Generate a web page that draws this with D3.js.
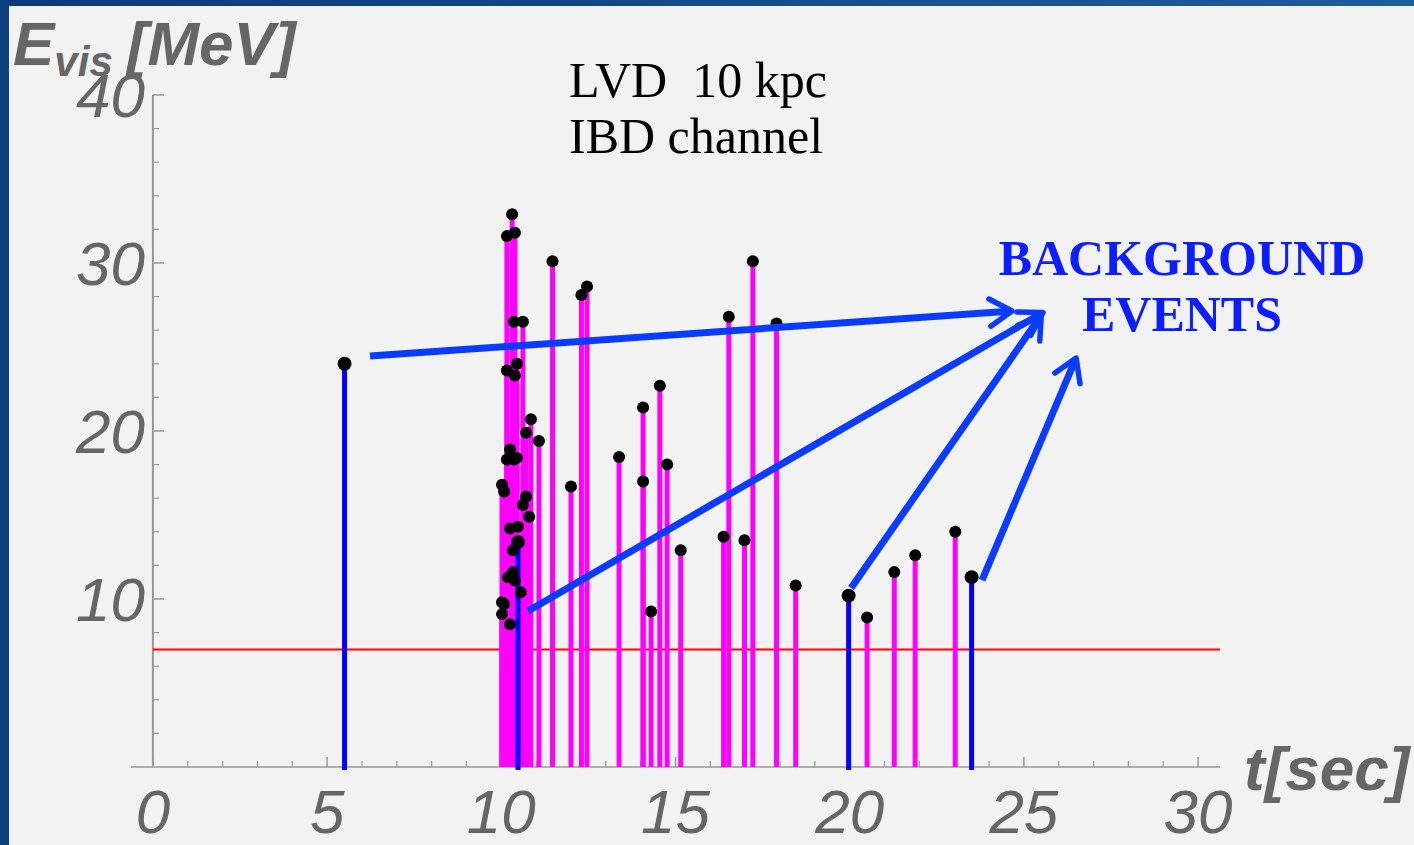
<!DOCTYPE html>
<html lang="en">
<head>
<meta charset="UTF-8">
<title>LVD IBD events</title>
<script src="https://cdn.jsdelivr.net/npm/d3@7/dist/d3.min.js"></script>
<style>
  html, body { margin: 0; padding: 0; background: #f2f2f2; }
  svg { display: block; }
</style>
</head>
<body>
<script>
// signal events (t [s], E_vis [MeV])
const sigT = [10.31, 10.16, 10.39, 10.36, 10.62, 10.16, 10.39, 10.45, 10.85, 10.71,
  11.08, 10.25, 10.16, 10.45, 10.36, 10.02, 10.08, 10.71, 10.62, 10.80,
  10.25, 10.48, 10.33, 10.19, 10.33, 10.39, 10.56, 10.02, 10.08, 10.02,
  10.25, 11.47, 12.0, 12.3, 12.46, 13.38, 14.07, 14.07, 14.3, 14.55,
  14.76, 15.15, 16.38, 16.53, 16.98, 17.22, 17.9, 18.45, 20.5, 21.28,
  21.88, 23.03];
const sigE = [32.9, 31.6, 31.8, 26.5, 26.5, 23.6, 23.3, 24.0, 20.7, 19.9,
  19.4, 18.9, 18.3, 18.4, 18.3, 16.8, 16.4, 16.1, 15.6, 14.9,
  14.2, 14.3, 12.9, 11.3, 11.6, 11.1, 10.4, 9.8, 9.7, 9.1,
  8.5, 30.1, 16.7, 28.1, 28.6, 18.45, 21.4, 17.0, 9.25, 22.7,
  18.0, 12.9, 13.7, 26.8, 13.5, 30.1, 26.4, 10.8, 8.9, 11.6,
  12.6, 14.0];

// background events
const bkgT = [5.5, 10.48, 19.97, 23.5];
const bkgE = [24.0, 13.4, 10.2, 11.3];

const threshold = 7;
const xTicks = [0, 5, 10, 15, 20, 25, 30];
const yTicks = [10, 20, 30, 40];

// annotation arrows: [t0, E0, t1, E1]
const arrows = [
  [6.23, 24.46, 24.66, 27.14],
  [10.77, 9.29, 25.55, 27.05],
  [20.04, 10.65, 25.5, 26.9],
  [23.8, 11.13, 26.5, 24.35]
];

const W = 1414, H = 845;
const svg = d3.select('body').append('svg').attr('width', W).attr('height', H);

// blue frame of the slide
const defs = svg.append('defs');
const gTop = defs.append('linearGradient').attr('id', 'topband');
gTop.append('stop').attr('offset', '0%').attr('stop-color', '#0b3a78');
gTop.append('stop').attr('offset', '100%').attr('stop-color', '#1f5c9e');
svg.append('rect').attr('width', W).attr('height', H).attr('fill', '#f2f2f2');
svg.append('rect').attr('width', W).attr('height', 6).attr('fill', 'url(#topband)');
svg.append('rect').attr('width', 9).attr('height', H).attr('fill', '#0d3e7e');

const x = d3.scaleLinear().domain([-0.63, 30.63]).range([131, 1220]);
const y = d3.scaleLinear().domain([0, 40]).range([767, 95]);

const axisCol = '#999';
const labCol = '#666';

// x axis
const xAx = svg.append('g').attr('transform', `translate(0,${y(0)})`);
xAx.append('line').attr('x1', x.range()[0]).attr('x2', x.range()[1])
  .attr('stroke', axisCol).attr('stroke-width', 1.5);
xAx.selectAll('.minor').data(d3.range(0, 31).filter(d => d % 5 !== 0)).join('line')
  .attr('x1', d => x(d)).attr('x2', d => x(d)).attr('y1', 0).attr('y2', -6)
  .attr('stroke', axisCol).attr('stroke-width', 1.2);
xAx.selectAll('.major').data(xTicks).join('line')
  .attr('x1', d => x(d)).attr('x2', d => x(d)).attr('y1', 0).attr('y2', -10)
  .attr('stroke', axisCol).attr('stroke-width', 1.5);
xAx.selectAll('text').data(xTicks).join('text')
  .attr('x', d => x(d)).attr('y', 66).attr('text-anchor', 'middle')
  .attr('font-family', 'Liberation Sans, Arial, sans-serif').attr('font-style', 'italic')
  .attr('font-size', 62).attr('fill', labCol).text(d => d);

// y axis
const yAx = svg.append('g').attr('transform', `translate(${x(0)},0)`);
yAx.append('line').attr('y1', y(40)).attr('y2', y(0))
  .attr('stroke', axisCol).attr('stroke-width', 2);
yAx.selectAll('.minor').data(d3.range(0, 41, 2).filter(d => d % 10 !== 0)).join('line')
  .attr('y1', d => y(d)).attr('y2', d => y(d)).attr('x1', 0).attr('x2', 6)
  .attr('stroke', axisCol).attr('stroke-width', 1.2);
yAx.selectAll('.major').data(yTicks).join('line')
  .attr('y1', d => y(d)).attr('y2', d => y(d)).attr('x1', 0).attr('x2', 11)
  .attr('stroke', axisCol).attr('stroke-width', 1.5);
yAx.selectAll('text').data(yTicks).join('text')
  .attr('x', -8).attr('y', d => y(d) + 22).attr('text-anchor', 'end')
  .attr('font-family', 'Liberation Sans, Arial, sans-serif').attr('font-style', 'italic')
  .attr('font-size', 62).attr('fill', labCol).text(d => d);

// threshold line
svg.append('line').attr('x1', x(0)).attr('x2', x.range()[1])
  .attr('y1', y(threshold)).attr('y2', y(threshold))
  .attr('stroke', '#ff0000').attr('stroke-width', 2);

const sig = sigT.map((t, i) => ({ t, e: sigE[i] }));
const bkg = bkgT.map((t, i) => ({ t, e: bkgE[i] }));

// stems
svg.append('g').selectAll('line').data(sig).join('line')
  .attr('x1', d => x(d.t)).attr('x2', d => x(d.t))
  .attr('y1', y(0)).attr('y2', d => y(d.e))
  .attr('stroke', '#ff00ff').attr('stroke-width', 5);
svg.append('g').selectAll('line').data(bkg).join('line')
  .attr('x1', d => x(d.t)).attr('x2', d => x(d.t))
  .attr('y1', y(0) + 3).attr('y2', d => y(d.e))
  .attr('stroke', '#0000ff').attr('stroke-width', 5);

// dots
svg.append('g').selectAll('circle').data(sig).join('circle')
  .attr('cx', d => x(d.t)).attr('cy', d => y(d.e)).attr('r', 6).attr('fill', '#000');
svg.append('g').selectAll('circle').data(bkg).join('circle')
  .attr('cx', d => x(d.t)).attr('cy', d => y(d.e)).attr('r', 7).attr('fill', '#000');

// arrows
const arrCol = '#0a3cff';
const ag = svg.append('g').attr('stroke', arrCol).attr('fill', 'none')
  .attr('stroke-linecap', 'round').attr('stroke-linejoin', 'round');
arrows.forEach(a => {
  const x0 = x(a[0]), y0 = y(a[1]), x1 = x(a[2]), y1 = y(a[3]);
  const ang = Math.atan2(y1 - y0, x1 - x0);
  const hl = 26, spread = 0.55;
  ag.append('line').attr('x1', x0).attr('y1', y0).attr('x2', x1 - 3 * Math.cos(ang)).attr('y2', y1 - 3 * Math.sin(ang))
    .attr('stroke-width', 7).attr('stroke-linecap', 'butt');
  ag.append('path').attr('stroke-width', 5.5)
    .attr('d', `M${x1 - hl * Math.cos(ang - spread)},${y1 - hl * Math.sin(ang - spread)}L${x1},${y1}L${x1 - hl * Math.cos(ang + spread)},${y1 - hl * Math.sin(ang + spread)}`);
});

// axis titles
const ylab = svg.append('text').attr('x', 13).attr('y', 65)
  .attr('font-family', 'Liberation Sans, Arial, sans-serif').attr('font-style', 'italic')
  .attr('font-weight', 'bold').attr('font-size', 62).attr('fill', labCol);
ylab.append('tspan').text('E');
ylab.append('tspan').attr('font-size', 42).attr('dy', 11).text('vis');
ylab.append('tspan').attr('dx', 14).attr('dy', -11).text('[MeV]');

svg.append('text').attr('x', 1244).attr('y', 790)
  .attr('font-family', 'Liberation Sans, Arial, sans-serif').attr('font-style', 'italic')
  .attr('font-weight', 'bold').attr('font-size', 62).attr('fill', labCol).text('t[sec]');

// in-plot labels
const serif = 'Liberation Serif, Times New Roman, serif';
svg.append('text').attr('x', 569).attr('y', 97).attr('font-family', serif)
  .attr('font-size', 50).attr('fill', '#000').attr('xml:space', 'preserve').text('LVD  10 kpc');
svg.append('text').attr('x', 569).attr('y', 153).attr('font-family', serif)
  .attr('font-size', 50).attr('fill', '#000').text('IBD channel');

const bg = svg.append('text').attr('font-family', serif).attr('font-weight', 'bold')
  .attr('font-size', 50).attr('fill', '#0a1eff').attr('text-anchor', 'middle');
bg.append('tspan').attr('x', 1182).attr('y', 275).text('BACKGROUND');
bg.append('tspan').attr('x', 1182).attr('y', 331).text('EVENTS');
</script>
</body>
</html>
